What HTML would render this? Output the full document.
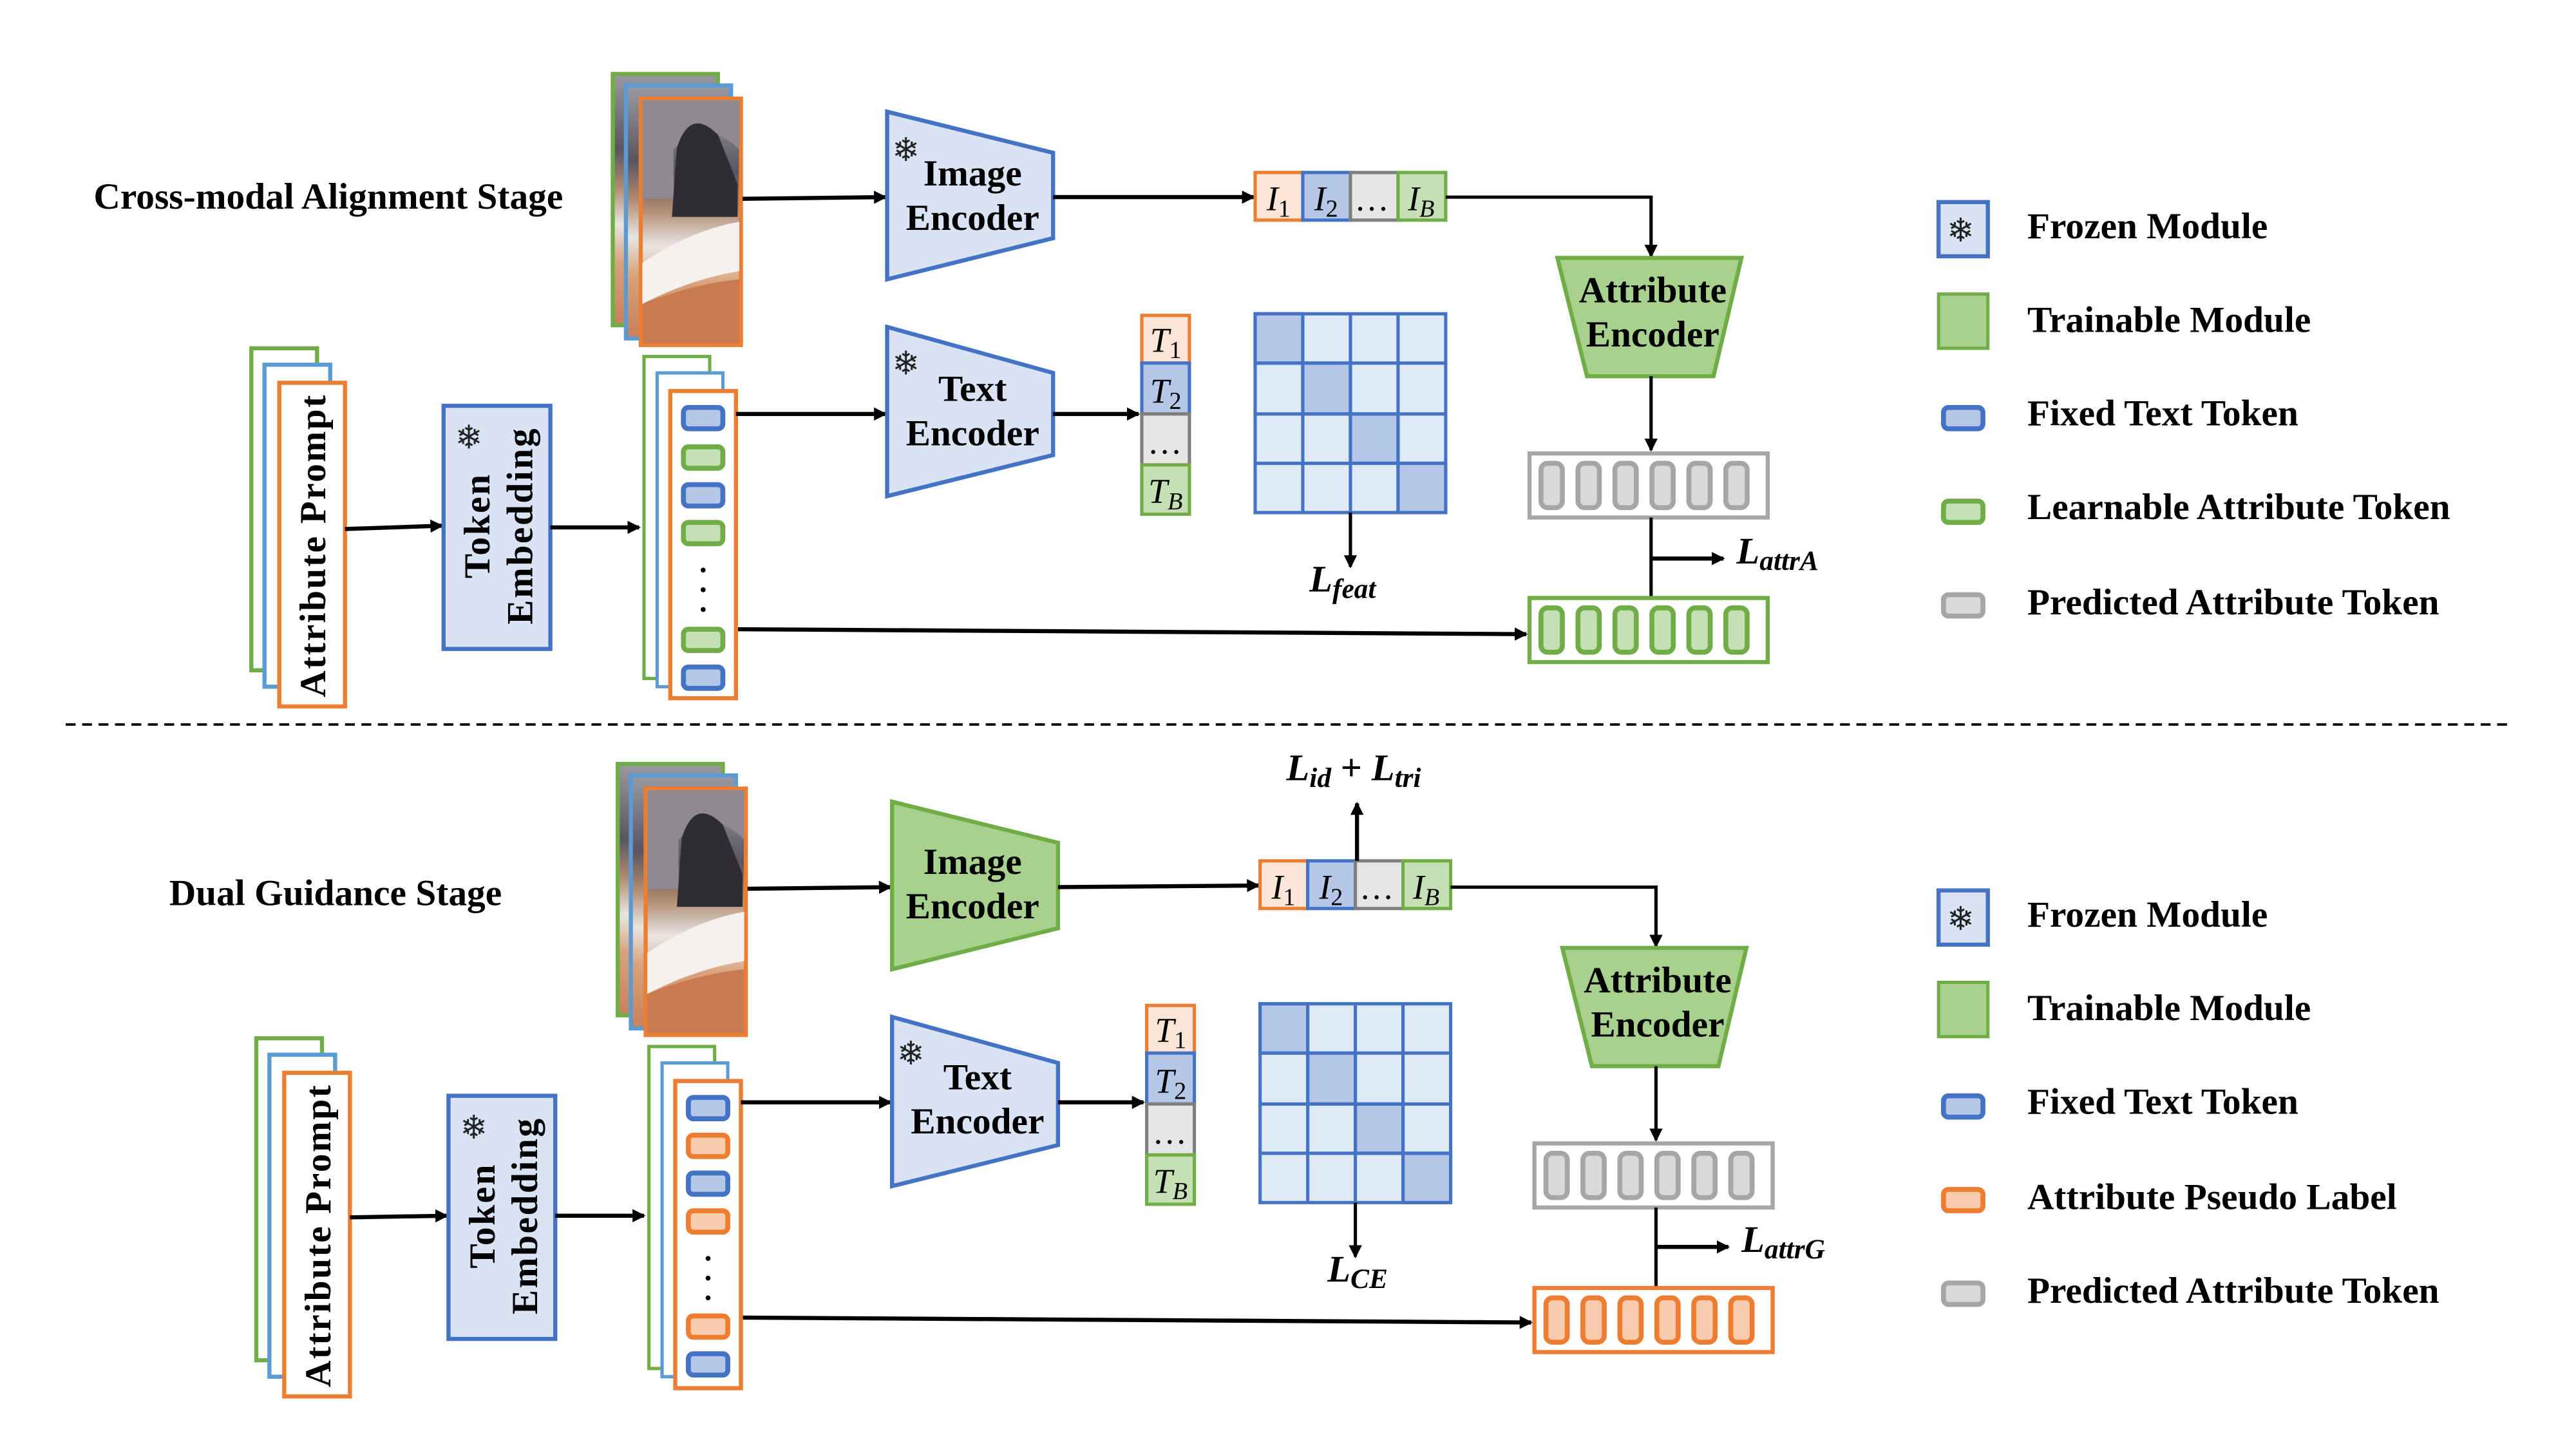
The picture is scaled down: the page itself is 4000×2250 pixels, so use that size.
<!DOCTYPE html>
<html><head><meta charset="utf-8"><style>
html,body{margin:0;padding:0;background:#fff;}
svg{display:block;}
.t{font-family:"Liberation Serif",serif;font-weight:bold;font-size:22.5px;fill:#000;}
.m{font-family:"Liberation Serif",serif;font-style:italic;font-size:21px;fill:#000;}
.mb{font-family:"Liberation Serif",serif;font-style:italic;font-weight:bold;font-size:23px;fill:#000;}
.sf{font-family:"DejaVu Sans",sans-serif;font-size:20px;fill:#222;}
</style></head><body>
<svg width="4000" height="2250" viewBox="0 0 1568 882" xmlns="http://www.w3.org/2000/svg">
<defs>
<marker id="ah" markerWidth="8" markerHeight="8" refX="7" refY="4" orient="auto" markerUnits="userSpaceOnUse">
<path d="M0,0 L8,4 L0,8 z" fill="#000"/></marker>
<linearGradient id="ph" x1="0" y1="0" x2="0" y2="1">
<stop offset="0" stop-color="#9a9aa2"/><stop offset="0.3" stop-color="#5a5560"/><stop offset="0.45" stop-color="#b08a70"/>
<stop offset="0.6" stop-color="#e8e6e2"/><stop offset="0.75" stop-color="#d9a27a"/><stop offset="1" stop-color="#c9805a"/></linearGradient>
<g id="photo">
<rect x="373" y="45" width="64" height="153" fill="url(#ph)" stroke="#70ad47" stroke-width="2.5"/>
<rect x="381" y="52" width="64" height="154" fill="url(#ph)" stroke="#5b9bd5" stroke-width="2.5"/>
<rect x="390" y="60" width="61" height="150" fill="url(#ph)" stroke="#ed7d31" stroke-width="2.5"/>
<path d="M391,61 h59 v30 q-20,-20 -40,0 v30 h-19 z" fill="#8e8a90"/>
<path d="M412,90 q8,-25 25,-8 l12,30 v20 h-40 z" fill="#2f2c33"/>
<path d="M391,160 q30,-20 59,-25 v30 q-30,5 -59,20 z" fill="#f4f1ef"/>
<path d="M391,185 q30,-12 59,-15 v39 h-59 z" fill="#c97a4e"/>
</g>
<g id="pill"><rect x="0" y="0" width="13" height="27" rx="4"/></g>
</defs>

<!-- ================= TOP ================= -->
<text class="t" x="57" y="127">Cross-modal Alignment Stage</text>
<use href="#photo"/>
<line x1="452" y1="121" x2="539" y2="120" stroke="#000" stroke-width="2.5" marker-end="url(#ah)"/>
<polygon points="540,68 641,93 641,145 540,170" fill="#dae3f3" stroke="#4472c4" stroke-width="2.5"/>
<text class="sf" x="543" y="98">❄</text>
<text class="t" x="592" y="113" text-anchor="middle">Image</text>
<text class="t" x="592" y="140" text-anchor="middle">Encoder</text>
<line x1="641" y1="120" x2="763" y2="120" stroke="#000" stroke-width="2.5" marker-end="url(#ah)"/>
<rect x="764" y="105" width="29" height="29" fill="#fbe5d6" stroke="#ed7d31" stroke-width="2"/>
<rect x="793" y="105" width="29" height="29" fill="#b4c7e7" stroke="#4472c4" stroke-width="2"/>
<rect x="822" y="105" width="29" height="29" fill="#e7e6e6" stroke="#7f7f7f" stroke-width="2"/>
<rect x="851" y="105" width="29" height="29" fill="#c5e0b4" stroke="#70ad47" stroke-width="2"/>
<text class="m" x="771" y="128">I<tspan font-style="normal" font-size="15" dy="4">1</tspan></text>
<text class="m" x="800" y="128">I<tspan font-style="normal" font-size="15" dy="4">2</tspan></text>
<text class="m" x="826" y="128" font-style="normal">…</text>
<text class="m" x="857" y="128">I<tspan font-size="15" dy="4">B</tspan></text>
<polyline points="880,120 1005,120 1005,156" fill="none" stroke="#000" stroke-width="2" marker-end="url(#ah)"/>
<polygon points="948,157 1060,157 1043,229 966,229" fill="#a9d18e" stroke="#70ad47" stroke-width="2.5"/>
<text class="t" x="1006" y="184" text-anchor="middle">Attribute</text>
<text class="t" x="1006" y="211" text-anchor="middle">Encoder</text>
<line x1="1005" y1="229" x2="1005" y2="274" stroke="#000" stroke-width="2" marker-end="url(#ah)"/>
<rect x="931" y="276" width="145" height="39" fill="#fff" stroke="#a6a6a6" stroke-width="2.5"/>
<g fill="#d9d9d9" stroke="#a6a6a6" stroke-width="3">
<use href="#pill" x="938" y="282"/><use href="#pill" x="960.5" y="282"/><use href="#pill" x="983" y="282"/><use href="#pill" x="1005.5" y="282"/><use href="#pill" x="1028" y="282"/><use href="#pill" x="1050.5" y="282"/></g>
<line x1="1005" y1="315" x2="1005" y2="364" stroke="#000" stroke-width="2"/>
<line x1="1005" y1="340" x2="1049" y2="340" stroke="#000" stroke-width="2.5" marker-end="url(#ah)"/>
<text class="mb" x="1057" y="343">L<tspan font-size="17" dy="4">attrA</tspan></text>
<rect x="931" y="364" width="145" height="39" fill="#fff" stroke="#70ad47" stroke-width="2.5"/>
<g fill="#c5e0b4" stroke="#70ad47" stroke-width="3">
<use href="#pill" x="938" y="370"/><use href="#pill" x="960.5" y="370"/><use href="#pill" x="983" y="370"/><use href="#pill" x="1005.5" y="370"/><use href="#pill" x="1028" y="370"/><use href="#pill" x="1050.5" y="370"/></g>
<line x1="448" y1="383" x2="929" y2="386" stroke="#000" stroke-width="2.5" marker-end="url(#ah)"/>

<rect x="153" y="212" width="40" height="196" fill="#fff" stroke="#70ad47" stroke-width="2.5"/>
<rect x="161" y="222" width="40" height="196" fill="#fff" stroke="#5b9bd5" stroke-width="2.5"/>
<rect x="170" y="233" width="40" height="197" fill="#fff" stroke="#ed7d31" stroke-width="2.5"/>
<text class="t" transform="translate(198,332) rotate(-90)" text-anchor="middle" letter-spacing="1">Attribute Prompt</text>
<line x1="210" y1="322" x2="269" y2="320" stroke="#000" stroke-width="2.5" marker-end="url(#ah)"/>
<rect x="270" y="247" width="65" height="148" fill="#dae3f3" stroke="#4472c4" stroke-width="2.5"/>
<text class="sf" x="277" y="273">❄</text>
<text class="t" transform="translate(298,320) rotate(-90)" text-anchor="middle" letter-spacing="1">Token</text>
<text class="t" transform="translate(324,320) rotate(-90)" text-anchor="middle" letter-spacing="1">Embedding</text>
<line x1="335" y1="321" x2="389" y2="321" stroke="#000" stroke-width="2.5" marker-end="url(#ah)"/>
<rect x="392" y="217" width="40" height="196" fill="#fff" stroke="#70ad47" stroke-width="2"/>
<rect x="400" y="227" width="40" height="191" fill="#fff" stroke="#5b9bd5" stroke-width="2"/>
<rect x="408" y="238" width="40" height="187" fill="#fff" stroke="#ed7d31" stroke-width="2.5"/>
<g stroke-width="3">
<rect x="416" y="248" width="24" height="13" rx="3" fill="#b4c7e7" stroke="#4472c4"/>
<rect x="416" y="272" width="24" height="13" rx="3" fill="#c5e0b4" stroke="#70ad47"/>
<rect x="416" y="295" width="24" height="13" rx="3" fill="#b4c7e7" stroke="#4472c4"/>
<rect x="416" y="318" width="24" height="13" rx="3" fill="#c5e0b4" stroke="#70ad47"/>
<rect x="416" y="383" width="24" height="13" rx="3" fill="#c5e0b4" stroke="#70ad47"/>
<rect x="416" y="406" width="24" height="13" rx="3" fill="#b4c7e7" stroke="#4472c4"/></g>
<g fill="#000"><circle cx="428" cy="347" r="1.5"/><circle cx="428" cy="359" r="1.5"/><circle cx="428" cy="371" r="1.5"/></g>
<line x1="448" y1="252" x2="539" y2="252" stroke="#000" stroke-width="2.5" marker-end="url(#ah)"/>
<polygon points="540,199 641,227 641,277 540,302" fill="#dae3f3" stroke="#4472c4" stroke-width="2.5"/>
<text class="sf" x="543" y="228">❄</text>
<text class="t" x="592" y="244" text-anchor="middle">Text</text>
<text class="t" x="592" y="271" text-anchor="middle">Encoder</text>
<line x1="641" y1="252" x2="693" y2="252" stroke="#000" stroke-width="2.5" marker-end="url(#ah)"/>
<rect x="695" y="192" width="29" height="29" fill="#fbe5d6" stroke="#ed7d31" stroke-width="2"/>
<rect x="695" y="221" width="29" height="31" fill="#b4c7e7" stroke="#4472c4" stroke-width="2"/>
<rect x="695" y="252" width="29" height="31" fill="#e7e6e6" stroke="#7f7f7f" stroke-width="2"/>
<rect x="695" y="283" width="29" height="30" fill="#c5e0b4" stroke="#70ad47" stroke-width="2"/>
<text class="m" x="700" y="214">T<tspan font-style="normal" font-size="15" dy="4">1</tspan></text>
<text class="m" x="700" y="245">T<tspan font-style="normal" font-size="15" dy="4">2</tspan></text>
<text class="m" x="700" y="276" font-style="normal">…</text>
<text class="m" x="699" y="306">T<tspan font-size="15" dy="4">B</tspan></text>
<g stroke="#4472c4" stroke-width="2">
<rect x="764" y="191" width="116" height="121" fill="#deebf7"/>
<rect x="764" y="191" width="29" height="30" fill="#b4c7e7"/><rect x="793" y="221" width="29" height="31" fill="#b4c7e7"/>
<rect x="822" y="252" width="29" height="30" fill="#b4c7e7"/><rect x="851" y="282" width="29" height="30" fill="#b4c7e7"/>
<path d="M793,191V312M822,191V312M851,191V312M764,221H880M764,252H880M764,282H880" fill="none"/></g>
<line x1="822" y1="312" x2="822" y2="345" stroke="#000" stroke-width="2" marker-end="url(#ah)"/>
<text class="mb" x="797" y="360">L<tspan font-size="17" dy="4">feat</tspan></text>

<!-- legend top -->
<rect x="1180" y="123" width="30" height="33" fill="#dae3f3" stroke="#4472c4" stroke-width="2.5"/>
<text class="sf" x="1185" y="147" font-size="18">❄</text>
<text class="t" x="1234" y="145">Frozen Module</text>
<rect x="1180" y="179" width="30" height="33" fill="#a9d18e" stroke="#70ad47" stroke-width="2"/>
<text class="t" x="1234" y="202">Trainable Module</text>
<rect x="1183" y="248" width="24" height="13" rx="3" fill="#b4c7e7" stroke="#4472c4" stroke-width="3"/>
<text class="t" x="1234" y="259">Fixed Text Token</text>
<rect x="1183" y="305" width="24" height="13" rx="3" fill="#c5e0b4" stroke="#70ad47" stroke-width="3"/>
<text class="t" x="1234" y="316">Learnable Attribute Token</text>
<rect x="1183" y="362" width="24" height="13" rx="3" fill="#d9d9d9" stroke="#a6a6a6" stroke-width="3"/>
<text class="t" x="1234" y="374">Predicted Attribute Token</text>

<line x1="40" y1="441" x2="1530" y2="441" stroke="#000" stroke-width="1.5" stroke-dasharray="6,4"/>

<!-- ================= BOTTOM ================= -->
<text class="t" x="103" y="551">Dual Guidance Stage</text>
<g transform="translate(3,420)">
<use href="#photo"/>
<line x1="452" y1="121" x2="539" y2="120" stroke="#000" stroke-width="2.5" marker-end="url(#ah)"/>
<polygon points="540,68 641,93 641,145 540,170" fill="#a9d18e" stroke="#70ad47" stroke-width="2.5"/>
<text class="t" x="589" y="112" text-anchor="middle">Image</text>
<text class="t" x="589" y="139" text-anchor="middle">Encoder</text>
<line x1="641" y1="120" x2="763" y2="119" stroke="#000" stroke-width="2.5" marker-end="url(#ah)"/>
<g transform="translate(0,-1)">
<rect x="764" y="105" width="29" height="29" fill="#fbe5d6" stroke="#ed7d31" stroke-width="2"/>
<rect x="793" y="105" width="29" height="29" fill="#b4c7e7" stroke="#4472c4" stroke-width="2"/>
<rect x="822" y="105" width="29" height="29" fill="#e7e6e6" stroke="#7f7f7f" stroke-width="2"/>
<rect x="851" y="105" width="29" height="29" fill="#c5e0b4" stroke="#70ad47" stroke-width="2"/>
<text class="m" x="771" y="128">I<tspan font-style="normal" font-size="15" dy="4">1</tspan></text>
<text class="m" x="800" y="128">I<tspan font-style="normal" font-size="15" dy="4">2</tspan></text>
<text class="m" x="826" y="128" font-style="normal">…</text>
<text class="m" x="857" y="128">I<tspan font-size="15" dy="4">B</tspan></text>
</g>
<line x1="823" y1="104" x2="823" y2="69" stroke="#000" stroke-width="2.5" marker-end="url(#ah)"/>
<text class="mb" x="780" y="55">L<tspan font-size="17" dy="4">id</tspan><tspan dy="-4" font-style="normal"> + </tspan>L<tspan font-size="17" dy="4">tri</tspan></text>
<polyline points="880,120 1005,120 1005,156" fill="none" stroke="#000" stroke-width="2" marker-end="url(#ah)"/>
<polygon points="948,157 1060,157 1043,229 966,229" fill="#a9d18e" stroke="#70ad47" stroke-width="2.5"/>
<text class="t" x="1006" y="184" text-anchor="middle">Attribute</text>
<text class="t" x="1006" y="211" text-anchor="middle">Encoder</text>
<line x1="1005" y1="229" x2="1005" y2="274" stroke="#000" stroke-width="2" marker-end="url(#ah)"/>
<rect x="931" y="276" width="145" height="39" fill="#fff" stroke="#a6a6a6" stroke-width="2.5"/>
<g fill="#d9d9d9" stroke="#a6a6a6" stroke-width="3">
<use href="#pill" x="938" y="282"/><use href="#pill" x="960.5" y="282"/><use href="#pill" x="983" y="282"/><use href="#pill" x="1005.5" y="282"/><use href="#pill" x="1028" y="282"/><use href="#pill" x="1050.5" y="282"/></g>
<line x1="1005" y1="315" x2="1005" y2="364" stroke="#000" stroke-width="2"/>
<line x1="1005" y1="339" x2="1049" y2="339" stroke="#000" stroke-width="2.5" marker-end="url(#ah)"/>
<text class="mb" x="1057" y="342">L<tspan font-size="17" dy="4">attrG</tspan></text>
<rect x="931" y="364" width="145" height="39" fill="#fff" stroke="#ed7d31" stroke-width="2.5"/>
<g fill="#f8cbad" stroke="#ed7d31" stroke-width="3">
<use href="#pill" x="938" y="370"/><use href="#pill" x="960.5" y="370"/><use href="#pill" x="983" y="370"/><use href="#pill" x="1005.5" y="370"/><use href="#pill" x="1028" y="370"/><use href="#pill" x="1050.5" y="370"/></g>
<line x1="448" y1="382" x2="929" y2="385" stroke="#000" stroke-width="2.5" marker-end="url(#ah)"/>

<rect x="153" y="212" width="40" height="196" fill="#fff" stroke="#70ad47" stroke-width="2.5"/>
<rect x="161" y="222" width="40" height="196" fill="#fff" stroke="#5b9bd5" stroke-width="2.5"/>
<rect x="170" y="233" width="40" height="197" fill="#fff" stroke="#ed7d31" stroke-width="2.5"/>
<text class="t" transform="translate(198,332) rotate(-90)" text-anchor="middle" letter-spacing="1">Attribute Prompt</text>
<line x1="210" y1="321" x2="269" y2="320" stroke="#000" stroke-width="2.5" marker-end="url(#ah)"/>
<rect x="270" y="247" width="65" height="148" fill="#dae3f3" stroke="#4472c4" stroke-width="2.5"/>
<text class="sf" x="277" y="273">❄</text>
<text class="t" transform="translate(298,320) rotate(-90)" text-anchor="middle" letter-spacing="1">Token</text>
<text class="t" transform="translate(324,320) rotate(-90)" text-anchor="middle" letter-spacing="1">Embedding</text>
<line x1="335" y1="320" x2="389" y2="320" stroke="#000" stroke-width="2.5" marker-end="url(#ah)"/>
<rect x="392" y="217" width="40" height="196" fill="#fff" stroke="#70ad47" stroke-width="2"/>
<rect x="400" y="227" width="40" height="191" fill="#fff" stroke="#5b9bd5" stroke-width="2"/>
<rect x="408" y="238" width="40" height="187" fill="#fff" stroke="#ed7d31" stroke-width="2.5"/>
<g stroke-width="3">
<rect x="416" y="248" width="24" height="13" rx="3" fill="#b4c7e7" stroke="#4472c4"/>
<rect x="416" y="271" width="24" height="13" rx="3" fill="#f8cbad" stroke="#ed7d31"/>
<rect x="416" y="294" width="24" height="13" rx="3" fill="#b4c7e7" stroke="#4472c4"/>
<rect x="416" y="317" width="24" height="13" rx="3" fill="#f8cbad" stroke="#ed7d31"/>
<rect x="416" y="381" width="24" height="13" rx="3" fill="#f8cbad" stroke="#ed7d31"/>
<rect x="416" y="404" width="24" height="13" rx="3" fill="#b4c7e7" stroke="#4472c4"/></g>
<g fill="#000"><circle cx="428" cy="346" r="1.5"/><circle cx="428" cy="358" r="1.5"/><circle cx="428" cy="370" r="1.5"/></g>
<line x1="448" y1="251" x2="539" y2="251" stroke="#000" stroke-width="2.5" marker-end="url(#ah)"/>
<polygon points="540,199 641,227 641,277 540,302" fill="#dae3f3" stroke="#4472c4" stroke-width="2.5"/>
<text class="sf" x="543" y="228">❄</text>
<text class="t" x="592" y="243" text-anchor="middle">Text</text>
<text class="t" x="592" y="270" text-anchor="middle">Encoder</text>
<line x1="641" y1="251" x2="693" y2="251" stroke="#000" stroke-width="2.5" marker-end="url(#ah)"/>
<rect x="695" y="192" width="29" height="29" fill="#fbe5d6" stroke="#ed7d31" stroke-width="2"/>
<rect x="695" y="221" width="29" height="31" fill="#b4c7e7" stroke="#4472c4" stroke-width="2"/>
<rect x="695" y="252" width="29" height="31" fill="#e7e6e6" stroke="#7f7f7f" stroke-width="2"/>
<rect x="695" y="283" width="29" height="30" fill="#c5e0b4" stroke="#70ad47" stroke-width="2"/>
<text class="m" x="700" y="214">T<tspan font-style="normal" font-size="15" dy="4">1</tspan></text>
<text class="m" x="700" y="245">T<tspan font-style="normal" font-size="15" dy="4">2</tspan></text>
<text class="m" x="700" y="276" font-style="normal">…</text>
<text class="m" x="699" y="306">T<tspan font-size="15" dy="4">B</tspan></text>
<g stroke="#4472c4" stroke-width="2">
<rect x="764" y="191" width="116" height="121" fill="#deebf7"/>
<rect x="764" y="191" width="29" height="30" fill="#b4c7e7"/><rect x="793" y="221" width="29" height="31" fill="#b4c7e7"/>
<rect x="822" y="252" width="29" height="30" fill="#b4c7e7"/><rect x="851" y="282" width="29" height="30" fill="#b4c7e7"/>
<path d="M793,191V312M822,191V312M851,191V312M764,221H880M764,252H880M764,282H880" fill="none"/></g>
<line x1="822" y1="312" x2="822" y2="345" stroke="#000" stroke-width="2" marker-end="url(#ah)"/>
<text class="mb" x="805" y="360">L<tspan font-size="17" dy="4">CE</tspan></text>
</g>

<!-- legend bottom -->
<rect x="1180" y="542" width="30" height="33" fill="#dae3f3" stroke="#4472c4" stroke-width="2.5"/>
<text class="sf" x="1185" y="566" font-size="18">❄</text>
<text class="t" x="1234" y="564">Frozen Module</text>
<rect x="1180" y="598" width="30" height="33" fill="#a9d18e" stroke="#70ad47" stroke-width="2"/>
<text class="t" x="1234" y="621">Trainable Module</text>
<rect x="1183" y="667" width="24" height="13" rx="3" fill="#b4c7e7" stroke="#4472c4" stroke-width="3"/>
<text class="t" x="1234" y="678">Fixed Text Token</text>
<rect x="1183" y="724" width="24" height="13" rx="3" fill="#f8cbad" stroke="#ed7d31" stroke-width="3"/>
<text class="t" x="1234" y="736">Attribute Pseudo Label</text>
<rect x="1183" y="781" width="24" height="13" rx="3" fill="#d9d9d9" stroke="#a6a6a6" stroke-width="3"/>
<text class="t" x="1234" y="793">Predicted Attribute Token</text>
</svg>
</body></html>
